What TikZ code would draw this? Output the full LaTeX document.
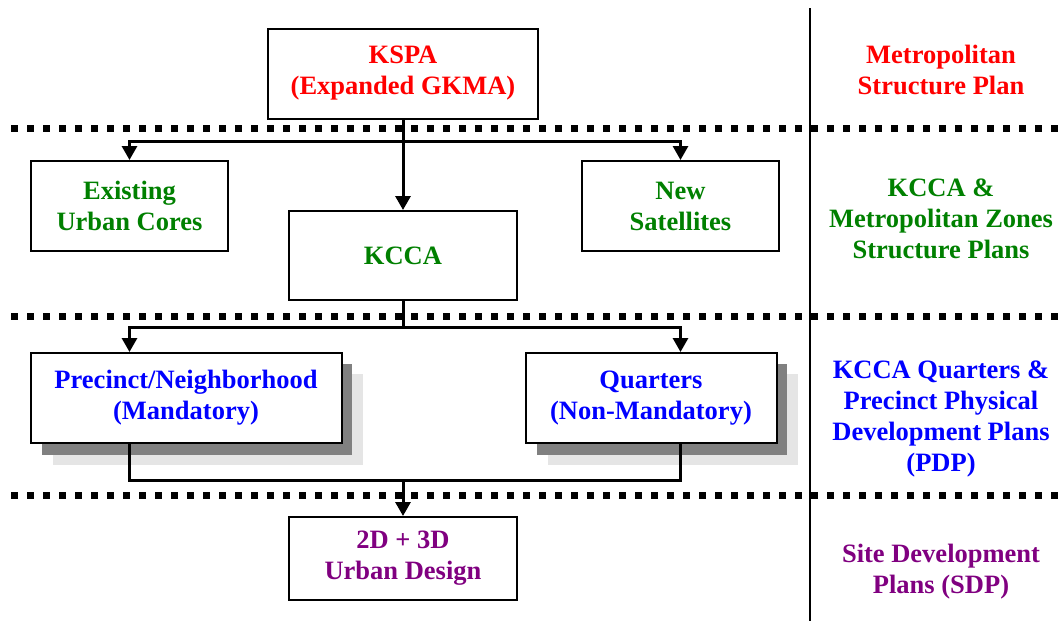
\documentclass[tikz,border=0pt]{standalone}
\usepackage{fontspec}
\setmainfont{Liberation Serif}
\usetikzlibrary{arrows.meta}

\definecolor{planred}{RGB}{255,0,0}
\definecolor{plangreen}{RGB}{0,128,0}
\definecolor{planblue}{RGB}{0,0,255}
\definecolor{planpurple}{RGB}{128,0,128}

\begin{document}
\begin{tikzpicture}[
    x = 1pt, y = -1pt,
    box/.style = {draw, line width = 2pt, fill = white, align = center,
                  inner sep = 0pt, font = \bfseries\fontsize{26.5}{31}\selectfont},
    side/.style = {align = center, font = \bfseries\fontsize{26.5}{31}\selectfont},
    link/.style = {line width = 3pt},
    arr/.style = {link, -{Triangle[width = 15pt, length = 14pt]}},
    level/.style = {line width = 7pt, dash pattern = on 7pt off 9pt}
]
\useasboundingbox (0,0) rectangle (1064,621);

% Level separators
\draw[level] (11,128) -- (1064,128);
\draw[level] (11,316) -- (1064,316);
\draw[level] (11,495) -- (1064,495);
\draw[line width = 2pt] (810,8) -- (810,621);

% Shadows behind the PDP boxes
\fill[black!10] (53,374) rectangle (363,465);
\fill[black!50] (42,364) rectangle (352,455);
\fill[black!10] (548,374) rectangle (798,465);
\fill[black!50] (537,364) rectangle (787,455);

% Boxes
\node[box, text = planred, minimum width = 270pt, minimum height = 90pt]
    (kspa) at (403,73.5) {KSPA\\(Expanded GKMA)};
\node[box, text = plangreen, minimum width = 197pt, minimum height = 90pt]
    (cores) at (129.5,206) {Existing\\Urban Cores};
\node[box, text = plangreen, minimum width = 228pt, minimum height = 89pt]
    (kcca) at (403,255.5) {KCCA};
\node[box, text = plangreen, minimum width = 197pt, minimum height = 90pt]
    (sat) at (680.5,206) {New\\Satellites};
\node[box, text = planblue, minimum width = 311pt, minimum height = 90pt]
    (prec) at (186,398) {Precinct/Neighborhood\\(Mandatory)};
\node[box, text = planblue, minimum width = 251pt, minimum height = 90pt]
    (quart) at (651,398) {Quarters\\(Non-Mandatory)};
\node[box, text = planpurple, minimum width = 228pt, minimum height = 83pt]
    (design) at (403,558.5) {2D + 3D\\Urban Design};

% Plan levels
\node[side, text = planred] (metro) at (941,70) {Metropolitan\\Structure Plan};
\node[side, text = plangreen] (zones) at (941,219) {KCCA \&\\Metropolitan Zones\\Structure Plans};
\node[side, text = planblue] (pdp) at (941,419) {KCCA Quarters \&\\Precinct Physical\\Development Plans\\(PDP)};
\node[side, text = planpurple] (sdp) at (941,572) {Site Development\\Plans (SDP)};

% Connectors
\coordinate (j1) at (403,141);
\coordinate (j2) at (403,327);
\coordinate (j3) at (403,480);

\draw[link] (kspa.south) -- (j1);
\draw[arr] (j1) -| (cores.north);
\draw[arr] (j1) -| (sat.north);
\draw[arr] (j1) -- (kcca.north);

\draw[link] (kcca.south) -- (j2);
\draw[arr] (j2) -| (prec.north -| cores.north);
\draw[arr] (j2) -| (quart.north -| sat.north);

\draw[link] (prec.south -| cores.north) |- (j3) -| (quart.south -| sat.north);
\draw[arr] (j3) -- (design.north);

\end{tikzpicture}
\end{document}
